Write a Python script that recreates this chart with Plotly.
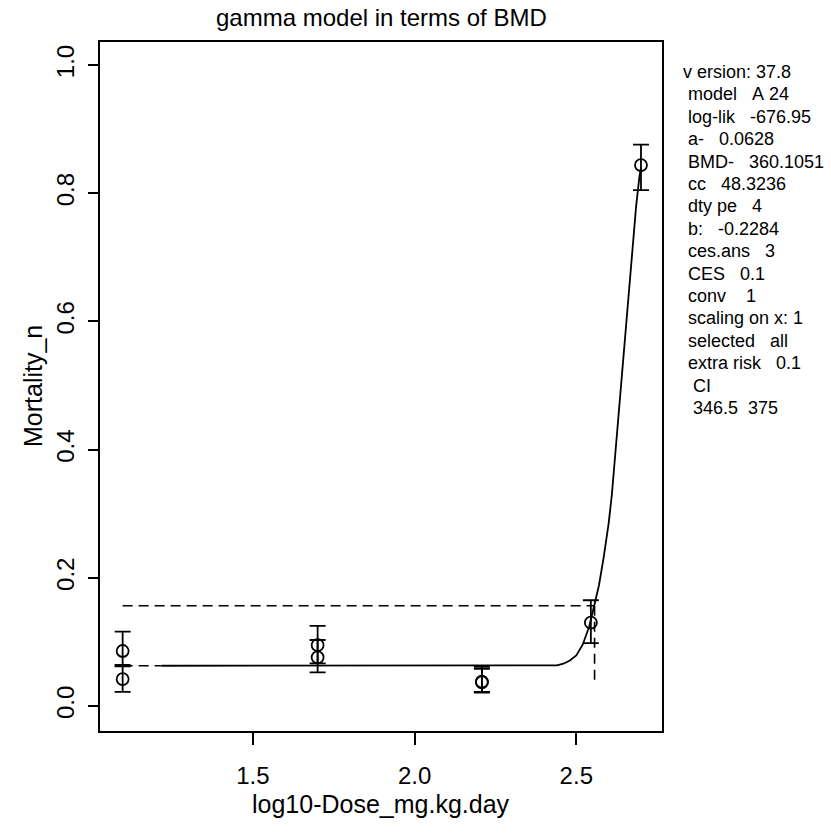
import math
import plotly.graph_objects as go

# ---- data ----
log_dose = [1.097, 1.097, 1.700, 1.700, 2.208, 2.208, 2.545, 2.700]
response = [0.0858, 0.042, 0.095, 0.076, 0.038, 0.037, 0.130, 0.844]
ci_low   = [0.062, 0.022, 0.0665, 0.0526, 0.022, 0.021, 0.098, 0.805]
ci_high  = [0.116, 0.064, 0.125, 0.103, 0.061, 0.058, 0.165, 0.876]

curve_x = [1.217, 2.40, 2.44, 2.46, 2.48, 2.50, 2.52, 2.54, 2.556, 2.57, 2.585,
           2.60, 2.61, 2.62, 2.628, 2.636, 2.645, 2.655, 2.665, 2.675, 2.685,
           2.695, 2.70]
curve_y = [0.0628, 0.0628, 0.0635, 0.066, 0.071, 0.079, 0.096, 0.124, 0.156,
           0.188, 0.233, 0.285, 0.33, 0.39, 0.44, 0.493, 0.55, 0.61, 0.67,
           0.725, 0.78, 0.825, 0.84]

a_par = 0.0628          # background response
bmd = 360.1051          # benchmark dose
ces_level = 0.1565      # response at BMD (extra risk 0.1)
bmd_line_bottom = 0.037
ref_start_x = 1.097     # start of reference dashed lines

info_lines = ["v ersion: 37.8", " model   A 24", " log-lik   -676.95", " a-   0.0628",
              " BMD-   360.1051", " cc   48.3236", " dty pe   4", " b:   -0.2284",
              " ces.ans   3", " CES   0.1", " conv    1", " scaling on x: 1",
              " selected   all", " extra risk   0.1", "  CI", "  346.5  375"]

x_ticks = [1.5, 2.0, 2.5]
x_ticktext = ["1.5", "2.0", "2.5"]
y_ticks = [0.0, 0.2, 0.4, 0.6, 0.8, 1.0]
y_ticktext = ["0.0", "0.2", "0.4", "0.6", "0.8", "1.0"]

FONT = "Liberation Sans, Arial, sans-serif"
log_bmd = math.log10(bmd)

fig = go.Figure()

# fitted curve
fig.add_trace(go.Scatter(x=curve_x, y=curve_y, mode="lines",
                         line=dict(color="black", width=1.8), hoverinfo="skip"))
# dashed background line up to curve start
fig.add_trace(go.Scatter(x=[ref_start_x, curve_x[0]], y=[a_par, a_par], mode="lines",
                         line=dict(color="black", width=1.6, dash="10px,6px")))
# dashed CES level line
fig.add_trace(go.Scatter(x=[ref_start_x, log_bmd], y=[ces_level, ces_level], mode="lines",
                         line=dict(color="black", width=1.6, dash="10px,6px")))
# dashed BMD vertical line
fig.add_trace(go.Scatter(x=[log_bmd, log_bmd], y=[ces_level, bmd_line_bottom], mode="lines",
                         line=dict(color="black", width=1.6, dash="10px,6px")))

# observations with confidence intervals
fig.add_trace(go.Scatter(
    x=log_dose, y=response, mode="markers",
    marker=dict(symbol="circle-open", size=12, color="black", line=dict(width=1.8, color="black")),
    error_y=dict(type="data", symmetric=False,
                 array=[h - r for h, r in zip(ci_high, response)],
                 arrayminus=[r - l for r, l in zip(response, ci_low)],
                 color="black", thickness=1.8, width=8)))

# plot area in pixels: x 100..662, y 42..731
L, R, T, B = 100, 662, 42, 731
W, H = 831, 835
pw, ph = R - L, B - T

def px(xp):
    return (xp - L) / pw

def py(yp):
    return (B - yp) / ph

ann = []
ann.append(dict(text="gamma model in terms of BMD", x=0.5, y=py(18), xref="paper", yref="paper",
                showarrow=False, font=dict(size=24, family=FONT, color="black"),
                xanchor="center", yanchor="middle"))
ann.append(dict(text="log10-Dose_mg.kg.day", x=0.5, y=py(804), xref="paper", yref="paper",
                showarrow=False, font=dict(size=25, family=FONT, color="black"),
                xanchor="center", yanchor="middle"))
ann.append(dict(text="Mortality_n", x=px(33), y=py(386), xref="paper", yref="paper",
                showarrow=False, textangle=-90, font=dict(size=25, family=FONT, color="black"),
                xanchor="center", yanchor="middle"))
for i, line in enumerate(info_lines):
    ann.append(dict(text=line.replace(" ", "&nbsp;"), x=px(681), y=py(72 + i * 22.4),
                    xref="paper", yref="paper", showarrow=False,
                    font=dict(size=18, family=FONT, color="black"),
                    xanchor="left", yanchor="middle"))

fig.update_layout(
    width=W, height=H,
    margin=dict(l=L, r=W - R, t=T, b=H - B, pad=0),
    paper_bgcolor="white", plot_bgcolor="white",
    showlegend=False,
    annotations=ann,
    font=dict(family=FONT, color="black"),
)
fig.update_xaxes(range=[1.027, 2.765], tickvals=x_ticks, ticktext=x_ticktext,
                 ticks="outside", ticklen=12, tickwidth=1.5, tickcolor="black",
                 showline=True, mirror=True, linecolor="black", linewidth=1.5,
                 showgrid=False, zeroline=False, ticklabelstandoff=10,
                 tickfont=dict(size=24, family=FONT, color="black"))
fig.update_yaxes(range=[-0.039, 1.036], tickvals=y_ticks, ticktext=y_ticktext,
                 tickangle=-90,
                 ticks="outside", ticklen=10, tickwidth=1.5, tickcolor="black",
                 showline=True, mirror=True, linecolor="black", linewidth=1.5,
                 showgrid=False, zeroline=False, ticklabelstandoff=5,
                 tickfont=dict(size=24, family=FONT, color="black"))

fig.write_html("out.html", config={"displayModeBar": False},
               post_script="document.body.style.margin='0';document.body.style.overflow='hidden';")
